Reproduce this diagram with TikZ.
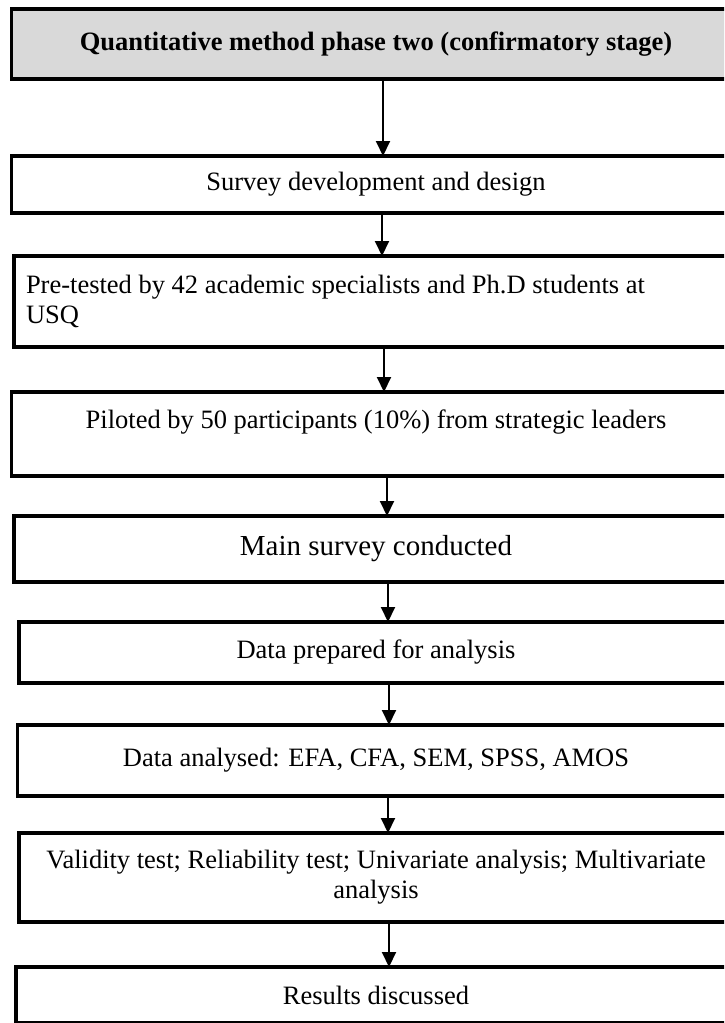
\documentclass[tikz,border=0pt]{standalone}
\usepackage{fontspec}
\setmainfont{Liberation Serif}
\usetikzlibrary{arrows.meta}

\tikzset{
  box/.style={draw=black, line width=3.1pt, outer sep=0pt, inner xsep=12pt,
              inner ysep=4pt, anchor=north west, align=center,
              font=\fontsize{26.5}{30}\selectfont},
  headbox/.style={box, fill=headgray, font=\fontsize{26.5}{30}\selectfont\bfseries},
  flow/.style={draw=black, line width=2pt,
               -{Triangle[length=15pt, width=14pt]}}
}
\definecolor{headgray}{HTML}{D9D9D9}

\begin{document}
\begin{tikzpicture}[x=1pt, y=1pt]
  % page frame
  \useasboundingbox (0,0) rectangle (724,-1023);
  \fill[white] (0,0) rectangle (724,-1023);
  \clip (0,0) rectangle (724,-1023);

  % process steps
  \node[headbox, minimum width=729pt, minimum height=70pt] (b1) at (11.5,-9)
    {Quantitative method phase two (confirmatory stage)};
  \node[box, minimum width=729pt, minimum height=57pt] (b2) at (11.5,-156)
    {Survey development and design};
  \node[box, minimum width=724pt, minimum height=91pt, text width=700pt, align=flush left] (b3) at (14,-256)
    {Pre-tested by 42 academic specialists and Ph.D students at\\USQ};
  \node[box, minimum width=729pt, minimum height=84pt] (b4) at (11.5,-392)
    {Piloted by 50 participants (10\%) from strategic leaders\\\mbox{}};
  \node[box, minimum width=724pt, minimum height=66pt, font=\fontsize{29}{33}\selectfont] (b5) at (14,-516)
    {Main survey conducted};
  \node[box, minimum width=714pt, minimum height=61pt] (b6) at (19,-622)
    {Data prepared for analysis};
  \node[box, minimum width=717pt, minimum height=71pt] (b7) at (17.5,-725)
    {Data analysed: EFA, CFA, SEM, SPSS, AMOS};
  \node[box, minimum width=714pt, minimum height=89pt] (b8) at (19,-833)
    {Validity test; Reliability test; Univariate analysis; Multivariate\\analysis};
  \node[box, minimum width=720pt, minimum height=56pt] (b9) at (16,-967)
    {Results discussed};

  % arrow columns
  \coordinate (c1) at (383,0);
  \coordinate (c2) at (382,0);
  \coordinate (c3) at (384,0);
  \coordinate (c4) at (387,0);
  \coordinate (c5) at (388,0);
  \coordinate (c6) at (389,0);
  \coordinate (c7) at (388,0);
  \coordinate (c8) at (389,0);

  % connectors
  \draw[flow] (b1.south -| c1) -- (b2.north -| c1);
  \draw[flow] (b2.south -| c2) -- (b3.north -| c2);
  \draw[flow] (b3.south -| c3) -- (b4.north -| c3);
  \draw[flow] (b4.south -| c4) -- (b5.north -| c4);
  \draw[flow] (b5.south -| c5) -- (b6.north -| c5);
  \draw[flow] (b6.south -| c6) -- (b7.north -| c6);
  \draw[flow] (b7.south -| c7) -- (b8.north -| c7);
  \draw[flow] (b8.south -| c8) -- (b9.north -| c8);
\end{tikzpicture}
\end{document}
